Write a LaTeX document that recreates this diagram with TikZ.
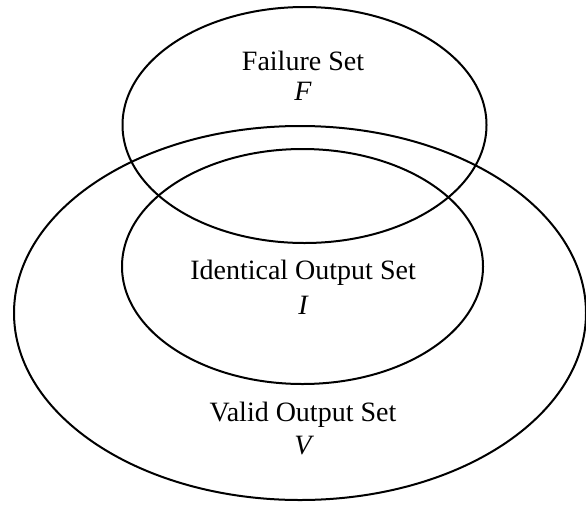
\documentclass[tikz,border=0pt]{standalone}
\usepackage{fontspec}
\setmainfont{Liberation Serif}
\begin{document}
\begin{tikzpicture}[x=1pt,y=-1pt,
  setline/.style={line width=2pt},
  lbl/.style={inner sep=0pt,font=\fontsize{28}{33}\selectfont},
  sym/.style={inner sep=0pt,font=\fontsize{28}{33}\selectfont\itshape}]
\useasboundingbox (0,0) rectangle (586,504);
\draw[setline] (304.5,125) ellipse [x radius=182pt, y radius=118pt];
\draw[setline] (300,313) ellipse [x radius=286pt, y radius=187pt];
\draw[setline] (302.5,266.5) ellipse [x radius=180.5pt, y radius=117.5pt];
\node[lbl] (fs) at (303,61) {Failure Set};
\node[sym] (f) at (303,91) {F};
\node[lbl] (is) at (303,273) {Identical Output Set};
\node[sym] (i) at (303,305) {I};
\node[lbl] (vs) at (303,415) {Valid Output Set};
\node[sym] (v) at (303,446) {V};
\end{tikzpicture}
\end{document}
